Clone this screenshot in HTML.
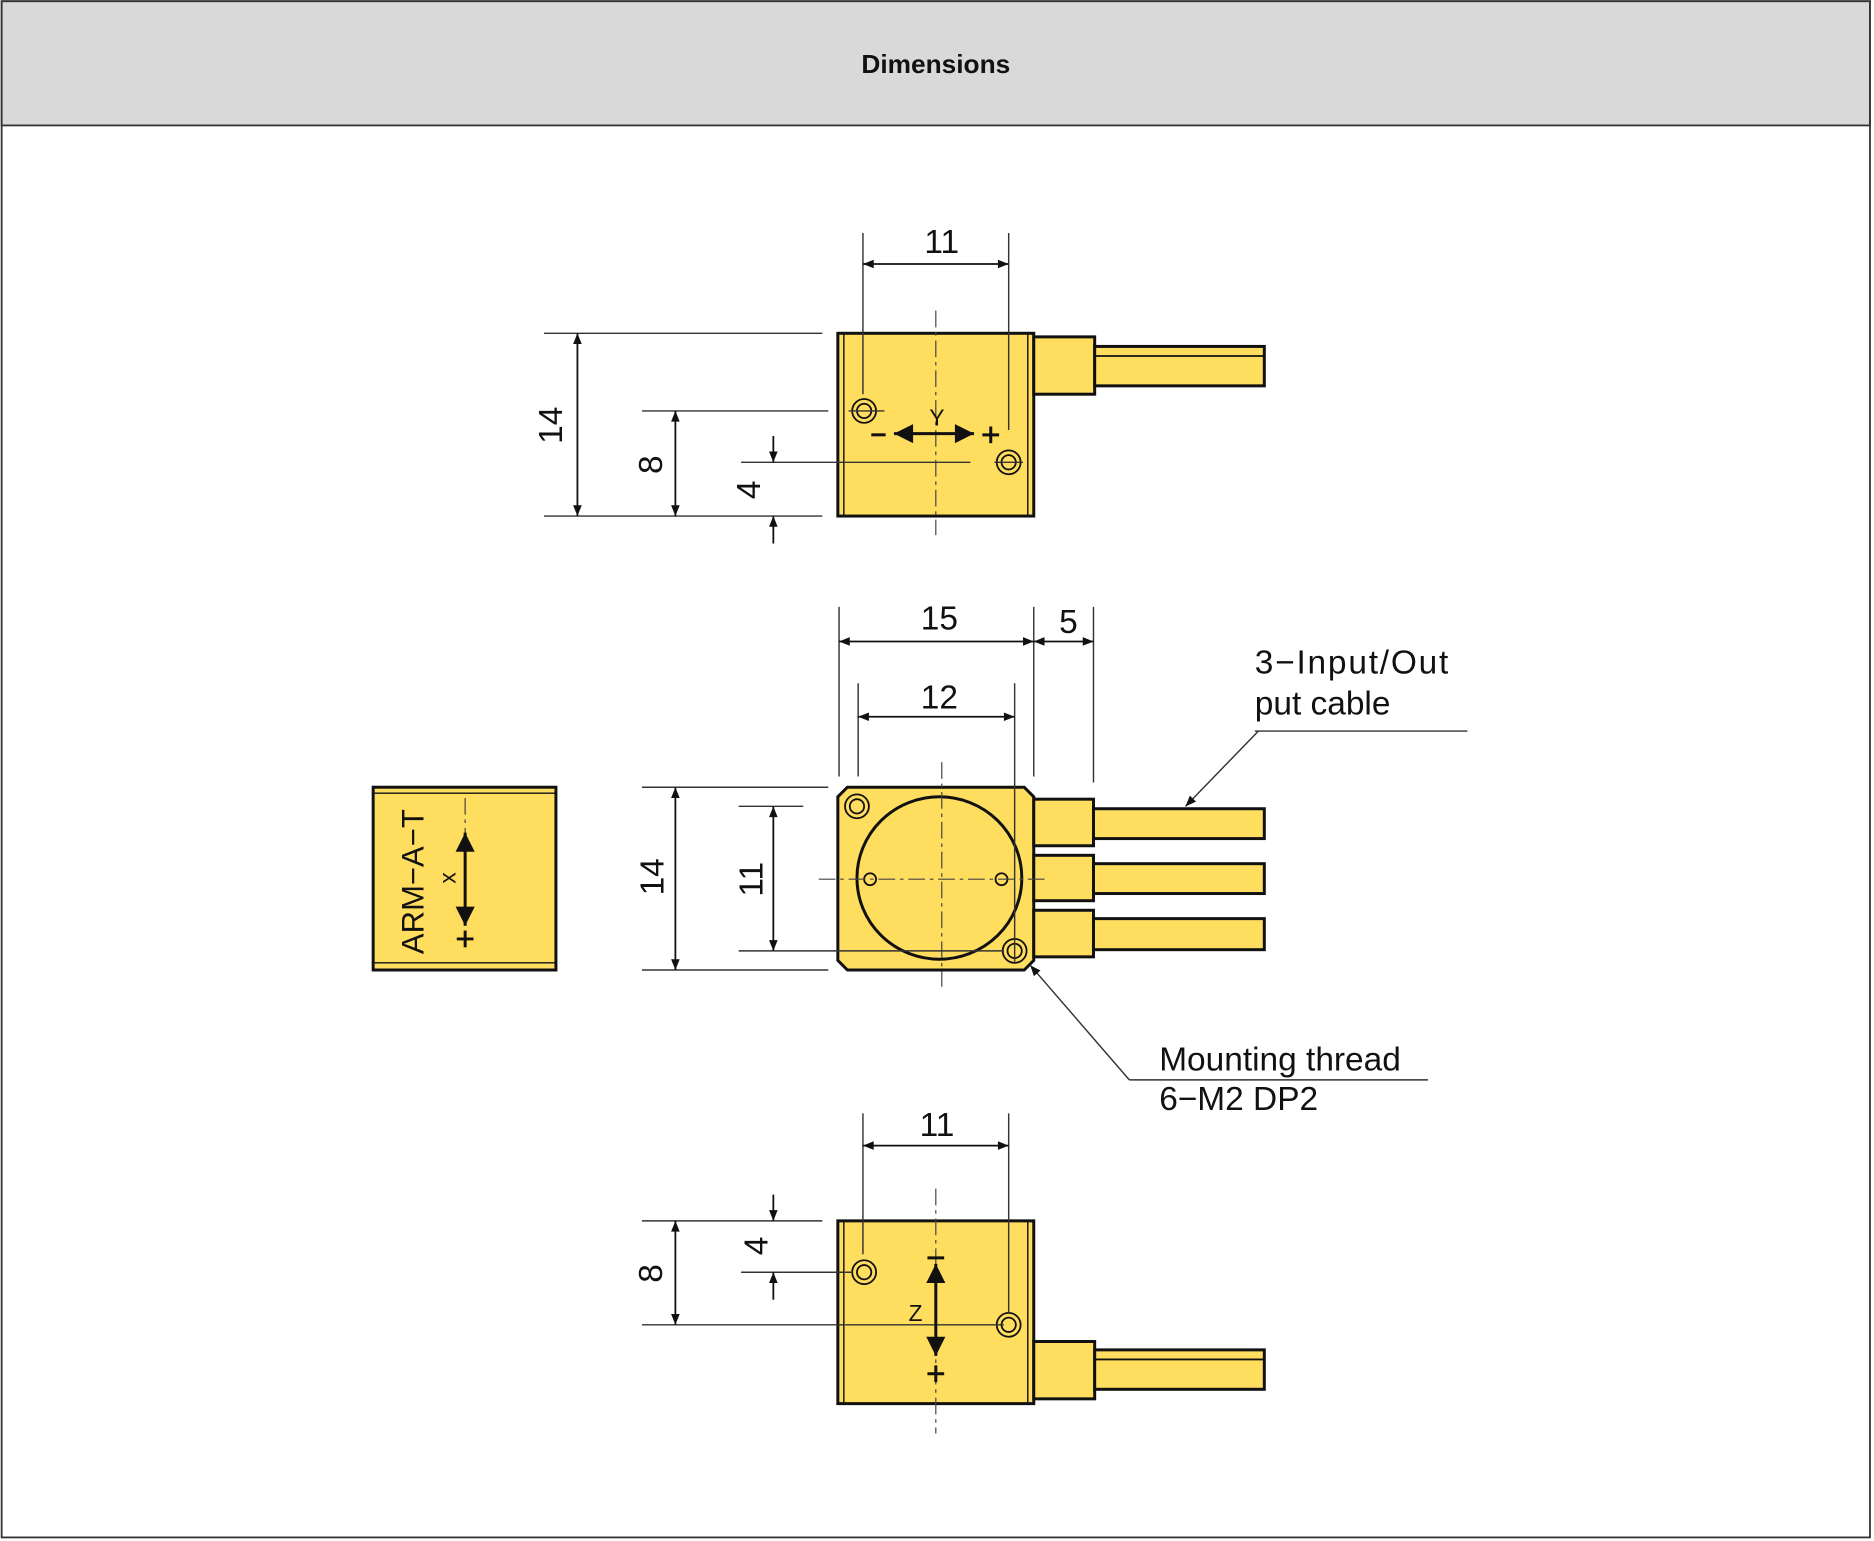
<!DOCTYPE html>
<html><head><meta charset="utf-8"><style>
html,body{margin:0;padding:0;background:#fff;}
svg{display:block;}
text{font-family:"Liberation Sans",sans-serif;fill:#111;}
</style></head><body>
<svg width="1874" height="1541" viewBox="0 0 1568 1290" xmlns="http://www.w3.org/2000/svg">
<defs>
<marker id="a" viewBox="0 0 10 10" refX="10" refY="5" markerWidth="13" markerHeight="9" orient="auto-start-reverse" markerUnits="userSpaceOnUse"><path d="M0,1 L10,5 L0,9 z" fill="#111"/></marker>
<marker id="b" viewBox="0 0 10 10" refX="10" refY="5" markerWidth="20" markerHeight="16" orient="auto-start-reverse" markerUnits="userSpaceOnUse"><path d="M0,0 L10,5 L0,10 z" fill="#111"/></marker>
</defs>
<rect x="0" y="0" width="1568" height="1290" fill="#fff"/>
<rect x="1" y="1" width="1564" height="104" fill="#d9d9d9" stroke="#333" stroke-width="1.5"/>
<rect x="1" y="1" width="1564" height="1286" fill="none" stroke="#333" stroke-width="1.5"/>
<text x="783" y="61" text-anchor="middle" font-size="22" font-weight="bold">Dimensions</text>

<g stroke="#111" fill="#FFDD5F" stroke-width="2.5">
<rect x="701" y="279" width="164" height="153"/>
<line x1="706" y1="279" x2="706" y2="432" stroke-width="1.2"/>
<line x1="860" y1="279" x2="860" y2="432" stroke-width="1.2"/>
<rect x="865" y="282" width="51" height="48"/>
<rect x="916" y="290" width="142" height="33"/>
<line x1="916" y1="298" x2="1058" y2="298" stroke-width="1.5"/>
<rect x="312" y="659" width="153" height="153"/>
<line x1="312" y1="664" x2="465" y2="664" stroke-width="1.2"/>
<line x1="312" y1="806" x2="465" y2="806" stroke-width="1.2"/>
<path d="M709,659 H857 L865,667 V804 L857,812 H709 L701,804 V667 Z"/>
<ellipse cx="786" cy="735" rx="69" ry="68"/>
<rect x="865" y="669" width="50" height="39"/>
<rect x="865" y="716" width="50" height="38"/>
<rect x="865" y="762" width="50" height="39"/>
<rect x="915" y="677" width="143" height="25"/>
<rect x="915" y="723" width="143" height="25"/>
<rect x="915" y="769" width="143" height="26"/>
<rect x="701" y="1022" width="164" height="153"/>
<line x1="706" y1="1022" x2="706" y2="1175" stroke-width="1.2"/>
<line x1="860" y1="1022" x2="860" y2="1175" stroke-width="1.2"/>
<rect x="865" y="1123" width="51" height="48"/>
<rect x="916" y="1130" width="142" height="33"/>
<line x1="916" y1="1138" x2="1058" y2="1138" stroke-width="1.5"/>
</g>

<g fill="none" stroke="#111" stroke-width="1.5">
<circle cx="723" cy="344" r="10"/><circle cx="723" cy="344" r="6"/>
<circle cx="844" cy="387" r="10"/><circle cx="844" cy="387" r="6"/>
<circle cx="717" cy="675" r="10"/><circle cx="717" cy="675" r="6"/>
<circle cx="849" cy="796" r="10"/><circle cx="849" cy="796" r="6"/>
<circle cx="728" cy="736" r="5"/><circle cx="838" cy="736" r="5"/>
<circle cx="723" cy="1065" r="10"/><circle cx="723" cy="1065" r="6"/>
<circle cx="844" cy="1109" r="10"/><circle cx="844" cy="1109" r="6"/>
</g>

<g stroke="#444" stroke-width="1" stroke-dasharray="14,4,3,4" fill="none">
<line x1="783" y1="260" x2="783" y2="448"/>
<line x1="788" y1="638" x2="788" y2="826"/>
<line x1="685" y1="736" x2="878" y2="736"/>
<line x1="783" y1="995" x2="783" y2="1200"/>
<line x1="389" y1="668" x2="389" y2="700"/>
</g>

<g stroke="#333" stroke-width="1.2" fill="none">
<line x1="722" y1="195" x2="722" y2="330"/>
<line x1="844" y1="195" x2="844" y2="360"/>
<line x1="455" y1="279" x2="688" y2="279"/>
<line x1="455" y1="432" x2="688" y2="432"/>
<line x1="537" y1="344" x2="693" y2="344"/>
<line x1="620" y1="387" x2="812" y2="387"/>
<line x1="710" y1="344" x2="740" y2="344"/>
<line x1="832" y1="387" x2="856" y2="387"/>
<line x1="702" y1="508" x2="702" y2="650"/>
<line x1="865" y1="508" x2="865" y2="650"/>
<line x1="915" y1="508" x2="915" y2="655"/>
<line x1="718" y1="572" x2="718" y2="650"/>
<line x1="849" y1="572" x2="849" y2="805"/>
<line x1="537" y1="659" x2="693" y2="659"/>
<line x1="537" y1="812" x2="693" y2="812"/>
<line x1="618" y1="675" x2="672" y2="675"/>
<line x1="618" y1="796" x2="840" y2="796"/>
<line x1="722" y1="932" x2="722" y2="1050"/>
<line x1="844" y1="932" x2="844" y2="1100"/>
<line x1="537" y1="1022" x2="688" y2="1022"/>
<line x1="620" y1="1065" x2="712" y2="1065"/>
<line x1="537" y1="1109" x2="840" y2="1109"/>
<line x1="1050" y1="612" x2="1228" y2="612"/>
<line x1="945" y1="904" x2="1195" y2="904"/>
<line x1="945" y1="904" x2="862" y2="808" marker-end="url(#a)"/>
<line x1="1053" y1="612" x2="992" y2="675" marker-end="url(#a)"/>
</g>
<g stroke="#111" stroke-width="1.5" fill="none">
<line x1="722" y1="221" x2="844" y2="221" marker-start="url(#a)" marker-end="url(#a)"/>
<line x1="483" y1="279" x2="483" y2="432" marker-start="url(#a)" marker-end="url(#a)"/>
<line x1="565" y1="344" x2="565" y2="432" marker-start="url(#a)" marker-end="url(#a)"/>
<line x1="647" y1="365" x2="647" y2="387" marker-end="url(#a)"/>
<line x1="647" y1="455" x2="647" y2="432" marker-end="url(#a)"/>
<line x1="702" y1="537" x2="865" y2="537" marker-start="url(#a)" marker-end="url(#a)"/>
<line x1="865" y1="537" x2="915" y2="537" marker-start="url(#a)" marker-end="url(#a)"/>
<line x1="718" y1="600" x2="849" y2="600" marker-start="url(#a)" marker-end="url(#a)"/>
<line x1="565" y1="659" x2="565" y2="812" marker-start="url(#a)" marker-end="url(#a)"/>
<line x1="647" y1="675" x2="647" y2="796" marker-start="url(#a)" marker-end="url(#a)"/>
<line x1="722" y1="959" x2="844" y2="959" marker-start="url(#a)" marker-end="url(#a)"/>
<line x1="647" y1="1000" x2="647" y2="1022" marker-end="url(#a)"/>
<line x1="647" y1="1088" x2="647" y2="1065" marker-end="url(#a)"/>
<line x1="565" y1="1022" x2="565" y2="1109" marker-start="url(#a)" marker-end="url(#a)"/>
</g>
<g stroke="#111" stroke-width="2.5" fill="none">
<line x1="748" y1="363" x2="815" y2="363" marker-start="url(#b)" marker-end="url(#b)"/>
<line x1="389" y1="697" x2="389" y2="775" marker-start="url(#b)" marker-end="url(#b)"/>
<line x1="783" y1="1058" x2="783" y2="1135" marker-start="url(#b)" marker-end="url(#b)"/>
<line x1="729" y1="364" x2="741" y2="364" stroke-width="2.5"/>
<line x1="822" y1="364" x2="836" y2="364" stroke-width="2.5"/>
<line x1="829" y1="357" x2="829" y2="371" stroke-width="2.5"/>
<line x1="382" y1="786" x2="396" y2="786" stroke-width="2.5"/>
<line x1="389" y1="779" x2="389" y2="793" stroke-width="2.5"/>
<line x1="776" y1="1053" x2="790" y2="1053" stroke-width="2.5"/>
<line x1="776" y1="1150" x2="790" y2="1150" stroke-width="2.5"/>
<line x1="783" y1="1143" x2="783" y2="1157" stroke-width="2.5"/>
</g>

<g font-size="28">
<text x="788" y="212" text-anchor="middle">11</text>
<text transform="translate(470,356) rotate(-90)" text-anchor="middle">14</text>
<text transform="translate(554,389) rotate(-90)" text-anchor="middle">8</text>
<text transform="translate(636,410) rotate(-90)" text-anchor="middle">4</text>
<text x="786" y="527" text-anchor="middle">15</text>
<text x="894" y="530" text-anchor="middle">5</text>
<text x="786" y="593" text-anchor="middle">12</text>
<text transform="translate(555,734) rotate(-90)" text-anchor="middle">14</text>
<text transform="translate(638,736) rotate(-90)" text-anchor="middle">11</text>
<text x="784" y="951" text-anchor="middle">11</text>
<text transform="translate(642,1043) rotate(-90)" text-anchor="middle">4</text>
<text transform="translate(554,1066) rotate(-90)" text-anchor="middle">8</text>
<text transform="translate(354,738) rotate(-90)" text-anchor="middle" font-size="26">ARM−A−T</text>
<text x="1050" y="564" font-size="28" letter-spacing="1.5">3−Input/Out</text>
<text x="1050" y="598" font-size="28">put cable</text>
<text x="970" y="896" font-size="28">Mounting thread</text>
<text x="970" y="929" font-size="28">6−M2 DP2</text>
</g>
<text x="784" y="356" text-anchor="middle" font-size="19">Y</text>
<text transform="translate(381,735) rotate(-90)" text-anchor="middle" font-size="19">x</text>
<text x="766" y="1106" text-anchor="middle" font-size="19">Z</text>
</svg>
</body></html>
